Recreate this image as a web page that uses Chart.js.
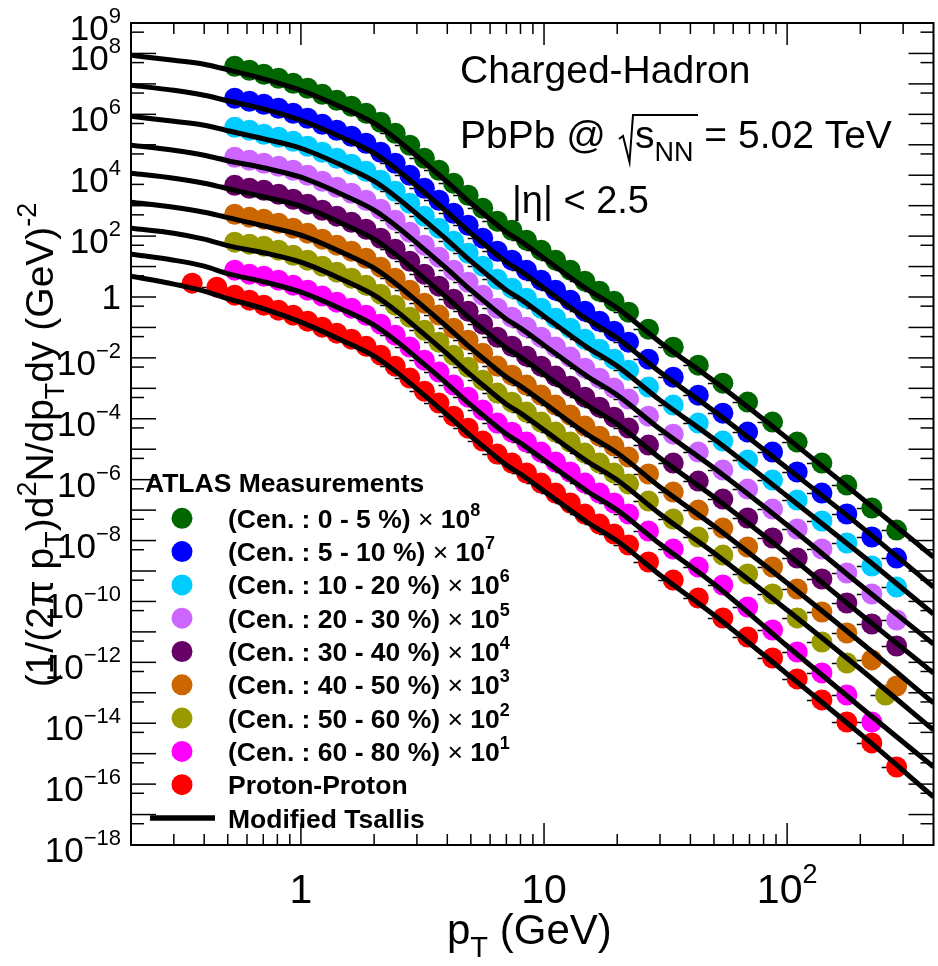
<!DOCTYPE html>
<html>
<head>
<meta charset="utf-8">
<script src="https://cdn.jsdelivr.net/npm/chart.js@4"></script>
<style>
  html, body { margin: 0; padding: 0; background: #fff; overflow: hidden; width: 938px; height: 966px; }
  canvas { display: block; }
</style>
</head>
<body>
<canvas id="spectra" width="944" height="966"></canvas>
<script>
const FONT = '"Liberation Sans", Arial, Helvetica, sans-serif';

// legend entries / colours
const centralities = ['0 - 5 %', '5 - 10 %', '10 - 20 %', '20 - 30 %', '30 - 40 %', '40 - 50 %', '50 - 60 %', '60 - 80 %'];
const scalePowers = [8, 7, 6, 5, 4, 3, 2, 1];
const seriesColors = ['#006600', '#0000ff', '#00ccff', '#cc66ff', '#660066', '#cc6600', '#999900', '#ff00ff', '#ff0000'];

// pT of the measured points (GeV)
const ptPbPb = [0.534, 0.614, 0.704, 0.809, 0.929, 1.066, 1.224, 1.405, 1.614, 1.853, 2.127, 2.442, 2.804, 3.22, 3.697, 4.245, 4.873, 5.595, 6.424, 7.376, 8.469, 9.723, 11.16, 12.82, 14.72, 16.9, 19.4, 22.27, 26.9, 34.0, 43.1, 54.4, 68.8, 87.1, 110, 139, 176, 223, 282];
const ptOlive = [0.534, 0.614, 0.704, 0.809, 0.929, 1.066, 1.224, 1.405, 1.614, 1.853, 2.127, 2.442, 2.804, 3.22, 3.697, 4.245, 4.873, 5.595, 6.424, 7.376, 8.469, 9.723, 11.16, 12.82, 14.72, 16.9, 19.4, 22.27, 26.9, 34.0, 43.1, 54.4, 68.8, 87.1, 110, 139, 176, 254];
const ptMagenta = [0.534, 0.614, 0.704, 0.809, 0.929, 1.066, 1.224, 1.405, 1.614, 1.853, 2.127, 2.442, 2.804, 3.22, 3.697, 4.245, 4.873, 5.595, 6.424, 7.376, 8.469, 9.723, 11.16, 12.82, 14.72, 16.9, 19.4, 22.27, 26.9, 34.0, 43.1, 54.4, 68.8, 87.1, 110, 139, 176, 223];
const ptPP = [0.357, 0.451, 0.534, 0.614, 0.704, 0.809, 0.929, 1.066, 1.224, 1.405, 1.614, 1.853, 2.127, 2.442, 2.804, 3.22, 3.697, 4.245, 4.873, 5.595, 6.424, 7.376, 8.469, 9.723, 11.16, 12.82, 14.72, 16.9, 19.4, 22.27, 26.9, 34.0, 43.1, 54.4, 68.8, 87.1, 110, 139, 176, 223, 282];

// measured spectra (already multiplied by the legend factor)
const cen0_5 = [3.79e7, 2.80e7, 2.07e7, 1.53e7, 1.05e7, 7.18e6, 4.56e6, 2.90e6, 1.84e6, 1.09e6, 5.49e5, 2.39e5, 9.66e4, 3.61e4, 1.46e4, 5.46e3, 2.20e3, 825, 309, 156, 73.5, 34.5, 16.2, 7.61, 3.31, 1.55, 0.730, 0.318, 0.0879, 0.0225, 5.78e-3, 1.48e-3, 3.53e-4, 7.78e-5, 1.72e-5, 3.51e-6, 6.65e-7, 1.17e-7, 2.21e-8];
const cen5_10 = [3.37e6, 2.69e6, 2.14e6, 1.58e6, 1.085e6, 7.43e5, 4.72e5, 3.00e5, 1.91e5, 1.12e5, 5.69e4, 2.47e4, 1.00e4, 3.74e3, 1.51e3, 565, 228, 85.4, 32.0, 16.2, 7.61, 3.57, 1.68, 0.788, 0.343, 0.160, 0.0756, 0.0329, 9.10e-3, 2.33e-3, 5.98e-4, 1.53e-4, 3.65e-5, 8.06e-6, 1.78e-6, 3.63e-7, 7.43e-8, 1.31e-8, 2.66e-9];
const cen10_20 = [3.77e5, 3.00e5, 2.22e5, 1.77e5, 1.31e5, 8.95e4, 5.69e4, 3.62e4, 2.30e4, 1.35e4, 6.85e3, 2.98e3, 1.20e3, 450, 182, 68.1, 27.4, 10.3, 3.85, 1.95, 0.916, 0.430, 0.202, 0.0949, 0.0413, 0.0193, 9.10e-3, 3.96e-3, 1.10e-3, 2.81e-4, 7.21e-5, 1.85e-5, 4.40e-6, 9.70e-7, 2.14e-7, 4.38e-8, 8.29e-9, 1.46e-9, 2.97e-10];
const cen20_30 = [3.90e4, 3.11e4, 2.48e4, 1.97e4, 1.46e4, 9.99e3, 6.35e3, 4.04e3, 2.56e3, 1.51e3, 764, 333, 134, 50.3, 20.3, 7.60, 3.06, 1.15, 0.430, 0.217, 0.102, 0.0480, 0.0226, 0.0106, 4.61e-3, 2.16e-3, 1.02e-3, 4.43e-4, 1.22e-4, 3.13e-5, 8.05e-6, 2.06e-6, 4.91e-7, 1.08e-7, 2.39e-8, 5.27e-9, 8.58e-10, 1.76e-10, 2.45e-11];
const cen30_40 = [4.69e3, 3.74e3, 3.22e3, 2.38e3, 1.63e3, 1.12e3, 709, 451, 286, 169, 85.3, 37.1, 15.0, 5.61, 2.27, 0.848, 0.342, 0.128, 0.0480, 0.0242, 0.0114, 5.36e-3, 2.52e-3, 1.18e-3, 5.14e-4, 2.41e-4, 1.13e-4, 4.94e-5, 1.37e-5, 3.50e-6, 8.98e-7, 2.30e-7, 5.49e-8, 1.21e-8, 2.67e-9, 5.45e-10, 8.89e-11, 1.82e-11, 3.43e-12];
const cen40_50 = [524, 418, 360, 266, 182, 125, 79.2, 50.4, 32.0, 18.8, 9.54, 4.15, 1.68, 0.627, 0.254, 0.0948, 0.0382, 0.0143, 5.37e-3, 2.71e-3, 1.28e-3, 5.99e-4, 2.81e-4, 1.32e-4, 5.75e-5, 2.69e-5, 1.27e-5, 5.52e-6, 1.53e-6, 3.91e-7, 1.00e-7, 2.57e-8, 6.13e-9, 1.35e-9, 2.57e-10, 4.50e-11, 9.20e-12, 1.20e-12, 1.67e-13];
const cen50_60 = [63.1, 54.3, 46.7, 34.5, 23.6, 16.2, 10.3, 6.54, 4.15, 2.45, 1.24, 0.539, 0.218, 0.0814, 0.0329, 0.0123, 4.96e-3, 1.86e-3, 6.97e-4, 3.52e-4, 1.66e-4, 7.78e-5, 3.65e-5, 1.72e-5, 7.46e-6, 3.50e-6, 1.65e-6, 7.17e-7, 1.98e-7, 5.07e-8, 1.30e-8, 3.34e-9, 7.96e-10, 1.75e-10, 2.87e-11, 4.66e-12, 9.53e-13, 8.48e-14];
const cen60_80 = [7.61, 5.62, 4.84, 3.57, 2.45, 1.68, 1.07, 0.677, 0.430, 0.253, 0.128, 0.0558, 0.0226, 8.43e-3, 3.41e-3, 1.28e-3, 5.14e-4, 1.93e-4, 7.22e-5, 3.64e-5, 1.72e-5, 8.06e-6, 3.78e-6, 1.78e-6, 7.73e-7, 3.62e-7, 1.71e-7, 7.43e-8, 2.05e-8, 5.26e-9, 1.35e-9, 3.46e-10, 6.57e-11, 1.15e-11, 2.19e-12, 4.48e-13, 8.48e-14, 1.10e-14];
const protonProton = [2.85, 2.10, 1.15, 0.787, 0.540, 0.370, 0.253, 0.161, 0.102, 0.0650, 0.0413, 0.0243, 0.0123, 5.36e-3, 2.17e-3, 8.09e-4, 3.27e-4, 1.22e-4, 4.93e-5, 1.85e-5, 6.93e-6, 3.50e-6, 1.65e-6, 7.73e-7, 3.63e-7, 1.71e-7, 7.42e-8, 3.48e-8, 1.64e-8, 7.13e-9, 1.97e-9, 5.04e-10, 1.30e-10, 2.85e-11, 6.81e-12, 1.39e-12, 2.85e-13, 5.82e-14, 1.10e-14, 2.26e-15, 3.66e-16];

// Modified Tsallis curves
const fitPt = [0.2, 0.3, 0.4, 0.5, 0.7, 1, 1.5, 2, 2.5, 3, 4, 5, 6, 7, 8, 10, 15, 20, 30, 50, 100, 200, 400];
const fit0_5 = [8.70e7, 5.96e7, 4.41e7, 2.91e7, 1.47e7, 6.17e6, 1.58e6, 5.10e5, 1.41e5, 4.20e4, 5.89e3, 1.20e3, 359, 134, 68.1, 18.8, 1.81, 0.430, 0.0329, 1.73e-3, 2.32e-5, 2.68e-7, 2.88e-9];
const fit5_10 = [9.01e6, 6.17e6, 4.23e6, 2.79e6, 1.52e6, 6.39e5, 1.64e5, 5.28e4, 1.46e4, 4.35e3, 610, 124, 37.2, 13.9, 7.05, 1.95, 0.187, 0.0445, 3.41e-3, 1.79e-4, 2.40e-6, 2.99e-8, 2.98e-10];
const fit10_20 = [8.65e5, 5.92e5, 4.38e5, 2.89e5, 1.58e5, 7.69e4, 1.97e4, 6.36e3, 1.76e3, 524, 73.4, 15.0, 4.48, 1.67, 0.849, 0.234, 0.0226, 5.36e-3, 4.10e-4, 2.16e-5, 2.89e-7, 3.60e-9, 3.87e-11];
const fit20_30 = [9.66e4, 6.62e4, 4.54e4, 2.99e4, 1.76e4, 8.59e3, 2.20e3, 710, 196, 58.5, 8.20, 1.67, 0.500, 0.187, 0.0948, 0.0262, 2.52e-3, 5.99e-4, 4.58e-5, 2.41e-6, 3.23e-8, 3.46e-10, 4.01e-12];
const fit30_40 = [1.16e4, 7.97e3, 5.46e3, 3.61e3, 1.97e3, 959, 246, 79.3, 21.9, 6.53, 0.915, 0.186, 0.0558, 0.0208, 0.0106, 2.92e-3, 2.81e-4, 6.68e-5, 5.11e-6, 2.69e-7, 3.61e-9, 3.86e-11, 4.48e-13];
const fit40_50 = [1.30e3, 890, 610, 403, 219, 107, 27.4, 8.86, 2.45, 0.730, 0.102, 0.0208, 6.24e-3, 2.33e-3, 1.18e-3, 3.27e-4, 3.14e-5, 7.47e-6, 5.71e-7, 3.00e-8, 4.03e-10, 4.66e-12, 4.64e-14];
const fit50_60 = [182, 125, 79.3, 48.5, 28.5, 13.9, 3.56, 1.15, 0.318, 0.0947, 0.0133, 2.71e-3, 8.10e-4, 3.02e-4, 1.54e-4, 4.24e-5, 4.08e-6, 9.70e-7, 7.42e-8, 3.90e-9, 5.23e-11, 6.04e-13, 6.02e-15];
const fit60_80 = [25.5, 16.2, 10.3, 5.84, 3.18, 1.44, 0.369, 0.119, 0.0329, 9.81e-3, 1.38e-3, 2.80e-4, 8.39e-5, 3.13e-5, 1.59e-5, 4.39e-6, 4.23e-7, 1.00e-7, 7.69e-9, 3.75e-10, 3.44e-12, 3.42e-14, 3.67e-16];
const fitPP = [4.83, 2.64, 1.56, 0.883, 0.413, 0.149, 0.0354, 0.0114, 3.16e-3, 9.42e-4, 1.32e-4, 2.69e-5, 8.05e-6, 3.00e-6, 1.53e-6, 4.21e-7, 4.06e-8, 9.64e-9, 7.38e-10, 3.59e-11, 4.15e-13, 4.44e-15, 3.80e-17];

// axis ticks
const yLabelPowers = [9, 8, 6, 4, 2, 0, -2, -4, -6, -8, -10, -12, -14, -16, -18];
const xLabelPowers = [0, 1, 2];
const xMinorTicks = [0.3, 0.4, 0.5, 0.6, 0.7, 0.8, 0.9, 2, 3, 4, 5, 6, 7, 8, 9, 20, 30, 40, 50, 60, 70, 80, 90, 200, 300];

const pointSets = [
  [ptPbPb, cen0_5], [ptPbPb, cen5_10], [ptPbPb, cen10_20], [ptPbPb, cen20_30],
  [ptPbPb, cen30_40], [ptPbPb, cen40_50], [ptOlive, cen50_60], [ptMagenta, cen60_80], [ptPP, protonProton]
];
const fitSets = [fit0_5, fit5_10, fit10_20, fit20_30, fit30_40, fit40_50, fit50_60, fit60_80, fitPP];

const datasets = [];
pointSets.forEach(([xs, ys], i) => {
  datasets.push({
    data: xs.map((x, j) => ({ x: x, y: ys[j] })),
    backgroundColor: seriesColors[i],
    borderWidth: 0,
    pointRadius: 10.5,
    showLine: false,
    order: 2
  });
});
fitSets.forEach((ys) => {
  datasets.push({
    data: fitPt.map((x, j) => ({ x: x, y: ys[j] })),
    borderColor: '#000',
    borderWidth: 5,
    pointRadius: 0,
    showLine: true,
    cubicInterpolationMode: 'monotone',
    order: 1
  });
});

// draw a row of text pieces (for super/subscripts)
function drawParts(ctx, parts, x, y, measureOnly) {
  let cx = x;
  for (const p of parts) {
    ctx.font = (p.b ? 'bold ' : '') + p.s + 'px ' + FONT;
    if (!measureOnly) ctx.fillText(p.t, cx, y + (p.dy || 0));
    cx += ctx.measureText(p.t).width;
  }
  return cx - x;
}

// small error-bar stubs that peek out left of each marker
const errorStubs = {
  id: 'errorStubs',
  beforeDatasetsDraw(chart) {
    const { ctx, scales } = chart;
    ctx.save();
    ctx.strokeStyle = '#000';
    ctx.lineWidth = 1.5;
    pointSets.forEach(([xs, ys]) => {
      xs.forEach((x, j) => {
        const px = scales.x.getPixelForValue(x);
        const py = Math.round(scales.y.getPixelForValue(ys[j])) + 0.5;
        ctx.beginPath(); ctx.moveTo(px - 15, py); ctx.lineTo(px - 10, py); ctx.stroke();
      });
    });
    ctx.restore();
  }
};

const decorations = {
  id: 'decorations',
  afterDatasetsDraw(chart) {
    const { ctx, chartArea: a, scales } = chart;
    const xs = scales.x, ys = scales.y;
    ctx.save();
    ctx.fillStyle = '#000';
    ctx.strokeStyle = '#000';
    ctx.textBaseline = 'alphabetic';
    ctx.textAlign = 'left';

    const seg = (x1, y1, x2, y2) => { ctx.beginPath(); ctx.moveTo(x1, y1); ctx.lineTo(x2, y2); ctx.stroke(); };

    // frame
    ctx.lineWidth = 2;
    ctx.strokeRect(a.left, a.top, a.right - a.left, a.bottom - a.top);

    // y ticks (inside, both sides)
    ctx.lineWidth = 1.5;
    for (let e = -18; e <= 9; e++) {
      const py = ys.getPixelForValue(Math.pow(10, e));
      seg(a.left, py, a.left + 25, py);
      seg(a.right, py, a.right - 25, py);
    }
    for (let e = -19; e <= 8; e++) {
      const py = ys.getPixelForValue(5 * Math.pow(10, e));
      if (py < a.top || py > a.bottom) continue;
      seg(a.left, py, a.left + 13, py);
      seg(a.right, py, a.right - 13, py);
    }
    // x ticks
    for (const e of xLabelPowers) {
      const px = xs.getPixelForValue(Math.pow(10, e));
      seg(px, a.bottom, px, a.bottom - 22);
      seg(px, a.top, px, a.top + 22);
    }
    for (const v of xMinorTicks) {
      const px = xs.getPixelForValue(v);
      seg(px, a.bottom, px, a.bottom - 11);
      seg(px, a.top, px, a.top + 11);
    }

    // y tick labels
    for (const e of yLabelPowers) {
      const py = ys.getPixelForValue(Math.pow(10, e));
      const parts = e === 0 ? [{ t: '1', s: 35 }]
        : [{ t: '10', s: 35 }, { t: e < 0 ? '\u2212' + (-e) : String(e), s: 22, dy: -17 }];
      const w = drawParts(ctx, parts, 0, 0, true);
      drawParts(ctx, parts, 121 - w, py + (e === 0 ? 12 : 17));
    }
    // x tick labels
    for (const e of xLabelPowers) {
      const px = xs.getPixelForValue(Math.pow(10, e));
      const parts = e === 0 ? [{ t: '1', s: 41 }] : e === 1 ? [{ t: '10', s: 41 }]
        : [{ t: '10', s: 41 }, { t: String(e), s: 27, dy: -20 }];
      const w = drawParts(ctx, parts, 0, 0, true);
      drawParts(ctx, parts, px - w / 2, 903);
    }

    // x title
    drawParts(ctx, [{ t: 'p', s: 42 }, { t: 'T', s: 29, dy: 13 }, { t: ' (GeV)', s: 42 }], 447, 944);

    // y title (rotated)
    const yTitle = [
      { t: '(1/(2\u03c0 p', s: 39 }, { t: 'T', s: 27, dy: 11 }, { t: ')d', s: 39 }, { t: '2', s: 27, dy: -17 },
      { t: 'N/dp', s: 39 }, { t: 'T', s: 27, dy: 11 }, { t: 'dy (GeV)', s: 39 }, { t: '-2', s: 27, dy: -17 }
    ];
    const tw = drawParts(ctx, yTitle, 0, 0, true);
    ctx.save();
    ctx.translate(53, 445);
    ctx.rotate(-Math.PI / 2);
    drawParts(ctx, yTitle, -tw / 2, 0);
    ctx.restore();

    // annotation
    drawParts(ctx, [{ t: 'Charged-Hadron', s: 39 }], 460, 83);
    drawParts(ctx, [{ t: 'PbPb @', s: 39 }], 460, 148);
    ctx.lineWidth = 2;
    ctx.beginPath();
    ctx.moveTo(619, 139); ctx.lineTo(623, 136); ctx.lineTo(629.5, 162); ctx.lineTo(633, 115); ctx.lineTo(698, 115);
    ctx.stroke();
    let cx = 635;
    cx += drawParts(ctx, [{ t: 's', s: 39 }], cx, 148);
    cx += drawParts(ctx, [{ t: 'NN', s: 27 }], cx, 161);
    drawParts(ctx, [{ t: ' = 5.02 TeV', s: 39 }], cx, 148);
    drawParts(ctx, [{ t: '|\u03b7| < 2.5', s: 38 }], 512, 213);

    // legend
    drawParts(ctx, [{ t: 'ATLAS Measurements', s: 26.5, b: true }], 145, 492);
    const rowY = (i) => 518.3 + 33.3 * i;
    for (let i = 0; i < 9; i++) {
      const cy = rowY(i);
      ctx.fillStyle = seriesColors[i];
      ctx.beginPath(); ctx.arc(182, cy, 10.5, 0, Math.PI * 2); ctx.fill();
      ctx.fillStyle = '#000';
      if (i < 8) {
        drawParts(ctx, [
          { t: '(Cen. : ' + centralities[i] + ') ', s: 26.5, b: true },
          { t: '\u00d7 ', s: 26.5 },
          { t: '10', s: 26.5, b: true },
          { t: String(scalePowers[i]), s: 18, b: true, dy: -12 }
        ], 228, cy + 9.5);
      } else {
        drawParts(ctx, [{ t: 'Proton-Proton', s: 26.5, b: true }], 228, cy + 9.5);
      }
    }
    const ly = rowY(9);
    ctx.lineWidth = 5.5;
    seg(150, ly, 215, ly);
    drawParts(ctx, [{ t: 'Modified Tsallis', s: 26.5, b: true }], 228, ly + 9.5);

    ctx.restore();
  }
};

new Chart(document.getElementById('spectra'), {
  type: 'scatter',
  data: { datasets: datasets },
  options: {
    responsive: false,
    animation: false,
    devicePixelRatio: 1,
    layout: { padding: { left: 131, top: 23, right: 4, bottom: 121 } },
    plugins: { legend: { display: false }, tooltip: { enabled: false } },
    scales: {
      x: { type: 'logarithmic', min: 0.2, max: 400, display: false },
      y: { type: 'logarithmic', min: 1e-18, max: 1e9, display: false }
    }
  },
  plugins: [errorStubs, decorations]
});
</script>
</body>
</html>
